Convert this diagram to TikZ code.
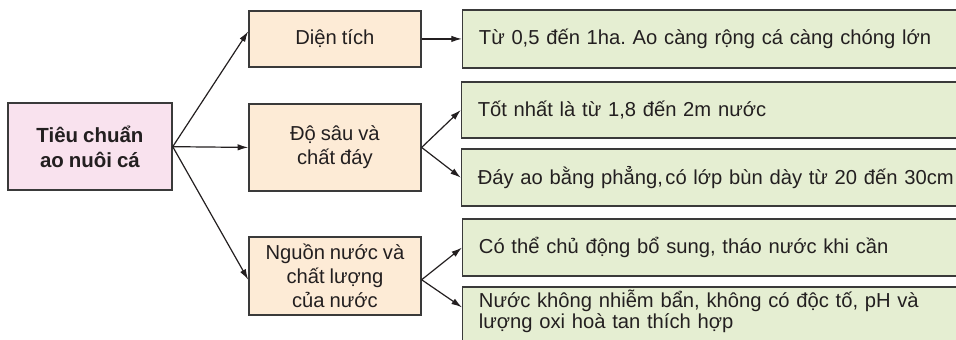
\documentclass[tikz,border=0pt]{standalone}
\usepackage{fontspec}
\setmainfont[WordSpace=0.88]{Liberation Sans}
\usepackage{xcolor}
\usepackage{tikz}
\usetikzlibrary{arrows.meta,calc}
\frenchspacing
\definecolor{rootpink}{HTML}{F9E2EE}
\definecolor{factorpeach}{HTML}{FDEBD6}
\definecolor{detailgreen}{HTML}{E5EED2}
\definecolor{linegray}{HTML}{3A3A3A}
\definecolor{textdark}{HTML}{231F20}
\tikzset{
  >={Latex[length=2.8mm,width=1.7mm]},
  line/.style={draw=textdark, ->, line width=0.9pt},
  box/.style={
    draw=linegray,
    line width=1.1pt,
    align=center,
    text=textdark,
    font=\fontsize{15.2}{18}\selectfont,
    inner sep=0pt
  },
  factor/.style={box, fill=factorpeach, minimum width=4.55cm},
  detail/.style={
    box,
    fill=detailgreen,
    anchor=west,
    align=left,
    text width=14cm,
    inner xsep=0.43cm,
    minimum height=1.5cm
  }
}
\begin{document}
\begin{tikzpicture}[x=1cm,y=1cm]
  \path[use as bounding box] (0,0) rectangle (25.29,8.97);

  \node[box, fill=rootpink, minimum width=4.34cm, minimum height=2.30cm,
    font=\bfseries\fontsize{15.4}{19}\selectfont] (root) at (2.38,5.09)
    {Tiêu chuẩn\\ao nuôi cá};

  \node[factor, minimum height=1.48cm] (area) at (8.86,7.94) {Diện tích};
  \node[factor, minimum height=2.30cm] (depth) at (8.86,5.07) {Độ sâu và\\chất đáy};
  \node[factor, minimum height=2.06cm] (water) at (8.86,1.67)
    {Nguồn nước và\\chất lượng\\của nước};

  \node[detail, minimum height=1.53cm] (areadet) at (12.22,7.94)
    {Từ 0,5 đến 1ha. Ao càng rộng cá càng chóng lớn};
  \node[detail, minimum height=1.48cm] (depthbest) at (12.19,6.06)
    {Tốt nhất là từ 1,8 đến 2m nước};
  \node[detail, minimum height=1.51cm] (bottom) at (12.19,4.27)
    {Đáy ao bằng phẳng,\hspace{0.12em}có lớp bùn dày từ 20 đến 30cm};
  \node[detail, minimum height=1.51cm] (supply) at (12.22,2.42)
    {Có thể chủ động bổ sung, tháo nước khi cần};
  \node[detail, anchor=north west, minimum height=0pt, inner ysep=2pt,
    text depth=1.2cm, font=\fontsize{15.2}{16.5}\selectfont] (clean) at (12.22,1.40)
    {Nước không nhiễm bẩn, không có độc tố, pH và\\lượng oxi hoà tan thích hợp};

  \draw[line] (root.east) -- ([yshift=2mm]area.west);
  \draw[line] (root.east) -- (depth.west);
  \draw[line] (root.east) -- ([yshift=-1mm]water.west);
  \draw[line] (area.east) -- (areadet.west);
  \draw[line] (depth.east) -- (depthbest.west);
  \draw[line] (depth.east) -- (bottom.west);
  \draw[line] ([yshift=-1mm]water.east) -- (supply.west);
  \draw[line] ([yshift=-1mm]water.east) -- ([yshift=-0.56cm]clean.north west);
\end{tikzpicture}
\end{document}
